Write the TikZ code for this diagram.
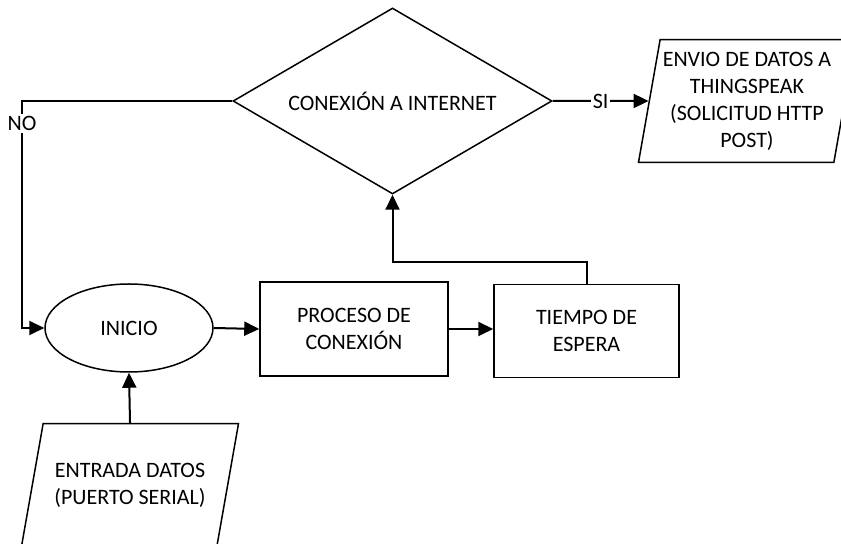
\documentclass[tikz,border=0pt]{standalone}
\usepackage{fontspec}
\setmainfont{Carlito}
\usetikzlibrary{shapes.geometric,arrows.meta}

\begin{document}
\begin{tikzpicture}[x=0.5pt,y=-0.5pt,
          font=\fontsize{11}{13.5}\selectfont,
          bloque/.style={draw,line width=0.75pt,align=center,inner sep=0pt},
          datos/.style={bloque,trapezium,trapezium left angle=80,trapezium right angle=100,
                        trapezium stretches body=true,minimum width=108.5pt},
          flecha/.style={line width=1pt,-{Triangle[length=7.5pt,width=7pt]}},
          etiqueta/.style={fill=white,inner sep=1pt}]
          \useasboundingbox (0,0) rectangle (841,544);
          \clip (0,0) rectangle (841,544);

          \node[bloque,diamond,aspect=1.715,minimum width=159.5pt,minimum height=93pt] (cond) at (392.5,101) {CONEXIÓN A INTERNET};
          \node[datos,inner ysep=6.1pt] (envio) at (747,101) {ENVIO DE DATOS A\\THINGSPEAK\\(SOLICITUD HTTP\\POST)};
          \node[bloque,ellipse,minimum width=84pt,minimum height=44pt] (inicio) at (129,328) {INICIO};
          \node[bloque,minimum width=94pt,minimum height=47pt] (proceso) at (354,329) {PROCESO DE\\CONEXIÓN};
          \node[bloque,minimum width=92.5pt,minimum height=46.5pt] (espera) at (586.5,331) {TIEMPO DE\\ESPERA};
          \node[datos,inner ysep=19.6pt] (entrada) at (130,485) {ENTRADA DATOS\\(PUERTO SERIAL)};

          \coordinate (noturn) at (22,101);
          \coordinate (retorno) at (586.5,262);

          \draw[flecha] (cond.east) -- node[etiqueta]{SI} (envio.west);
          \draw[flecha] (cond.west) -- (noturn) -- node[pos=0.1,etiqueta]{NO} (noturn |- inicio.west) -- (inicio.west);
          \draw[flecha] (entrada.north) -- (inicio.south);
          \draw[flecha] (inicio.east) -- (proceso.west);
          \draw[flecha] (proceso.east) -- (proceso.east -| espera.west);
          \draw[flecha] (espera.north) -- (retorno) -| (cond.south);

        \end{tikzpicture}
\end{document}
